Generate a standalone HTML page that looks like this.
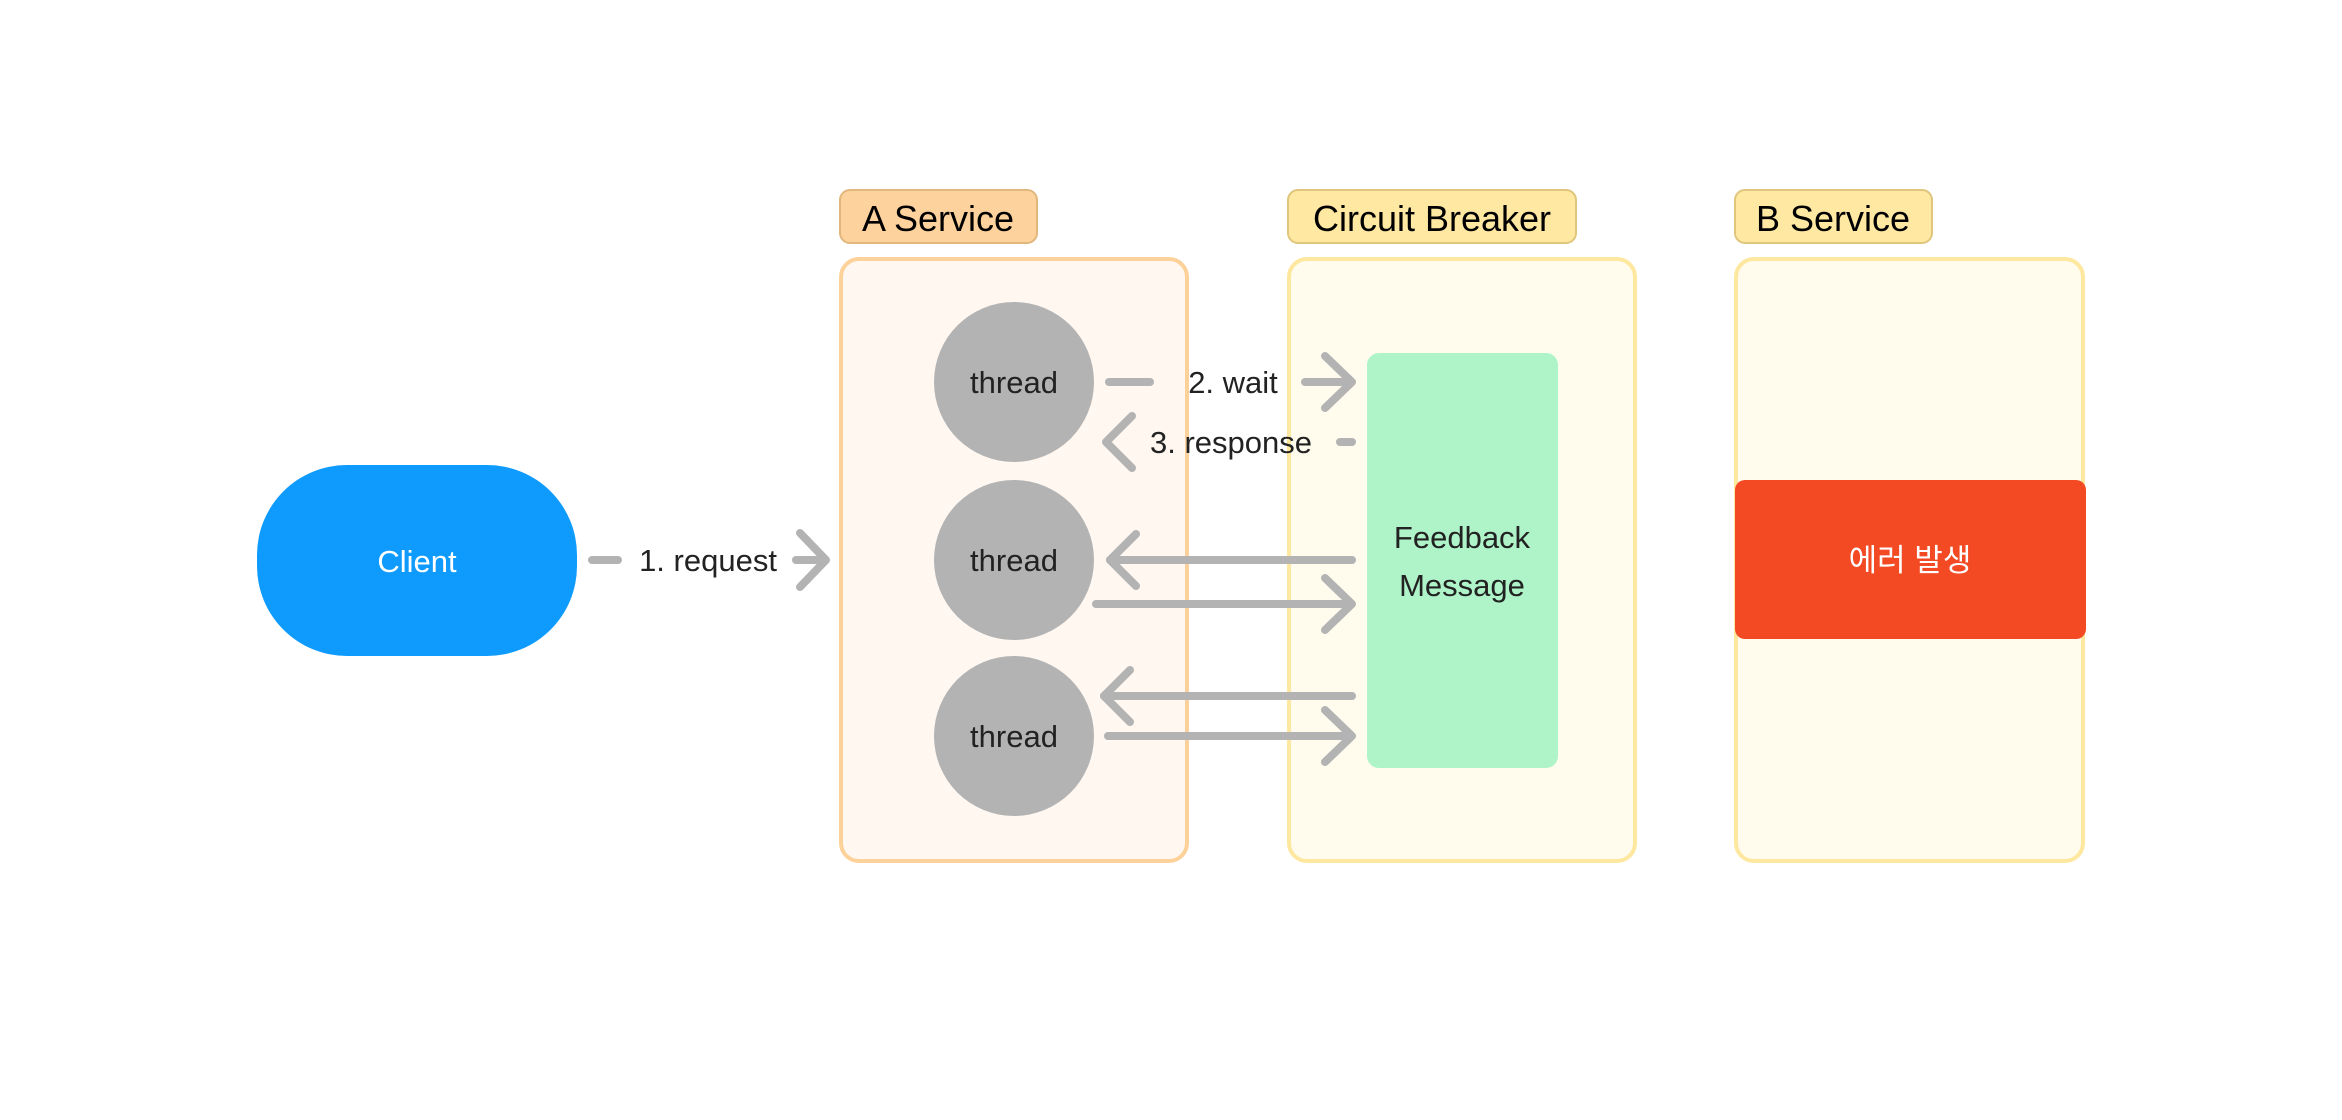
<!DOCTYPE html>
<html><head><meta charset="utf-8"><style>
html,body{margin:0;padding:0;background:#fff;}
svg{display:block;}
text{font-family:"Liberation Sans","Noto Sans CJK KR",sans-serif;}
</style></head><body>
<svg width="2342" height="1120" viewBox="0 0 2342 1120" xmlns="http://www.w3.org/2000/svg">
<!-- containers -->
<rect x="841" y="259" width="346" height="602" rx="18" fill="#fff7f0" stroke="#fdd29a" stroke-width="4"/>
<rect x="1289" y="259" width="346" height="602" rx="18" fill="#fffcee" stroke="#fee79f" stroke-width="4"/>
<rect x="1736" y="259" width="347" height="602" rx="18" fill="#fffcee" stroke="#fee79f" stroke-width="4"/>
<!-- labels -->
<rect x="840" y="190" width="197" height="53" rx="10" fill="#fdd29c" stroke="#e2b77d" stroke-width="2"/>
<text x="938" y="231" font-size="36" text-anchor="middle" fill="#000">A Service</text>
<rect x="1288" y="190" width="288" height="53" rx="10" fill="#fee8a2" stroke="#dfc67c" stroke-width="2"/>
<text x="1432" y="231" font-size="36" text-anchor="middle" fill="#000">Circuit Breaker</text>
<rect x="1735" y="190" width="197" height="53" rx="10" fill="#fee8a2" stroke="#dfc67c" stroke-width="2"/>
<text x="1833" y="231" font-size="36" text-anchor="middle" fill="#000">B Service</text>
<!-- client -->
<rect x="257" y="465" width="320" height="191" rx="90" fill="#0e9bfd"/>
<text x="417" y="572" font-size="31" text-anchor="middle" fill="#fff">Client</text>
<!-- threads -->
<g fill="#b3b3b3"><circle cx="1014" cy="382" r="80"/><circle cx="1014" cy="560" r="80"/><circle cx="1014" cy="736" r="80"/></g>
<g font-size="31" text-anchor="middle" fill="#222"><text x="1014" y="393">thread</text><text x="1014" y="571">thread</text><text x="1014" y="747">thread</text></g>
<!-- feedback -->
<rect x="1367" y="353" width="191" height="415" rx="12" fill="#aef4c8"/>
<text x="1462" y="548" font-size="31" text-anchor="middle" fill="#222">Feedback</text>
<text x="1462" y="596" font-size="31" text-anchor="middle" fill="#222">Message</text>
<!-- error -->
<rect x="1735" y="480" width="351" height="159" rx="10" fill="#f34a23"/>
<text x="1910" y="571" font-size="31" text-anchor="middle" fill="#fff">에러 발생</text>
<!-- arrows -->
<g stroke="#b3b3b3" stroke-width="8" stroke-linecap="round" stroke-linejoin="round" fill="none">
<line x1="592" y1="560" x2="618" y2="560"/><line x1="796" y1="560" x2="824" y2="560"/><polyline points="800,533 826,560 800,587"/>
<line x1="1109" y1="382" x2="1150" y2="382"/><line x1="1305" y1="382" x2="1350" y2="382"/><polyline points="1325,356 1352,382 1325,408"/>
<line x1="1340" y1="442" x2="1352" y2="442"/><polyline points="1132,416 1106,442 1132,468"/>
<line x1="1352" y1="560" x2="1110" y2="560"/><polyline points="1136,534 1110,560 1136,586"/>
<line x1="1096" y1="604" x2="1350" y2="604"/><polyline points="1325,578 1352,604 1325,630"/>
<line x1="1352" y1="696" x2="1104" y2="696"/><polyline points="1130,670 1104,696 1130,722"/>
<line x1="1108" y1="736" x2="1350" y2="736"/><polyline points="1325,710 1352,736 1325,762"/>
</g>
<g font-size="31" fill="#222" text-anchor="middle">
<text x="708" y="571">1. request</text>
<text x="1233" y="393">2. wait</text>
<text x="1231" y="453">3. response</text>
</g>
</svg>
</body></html>
